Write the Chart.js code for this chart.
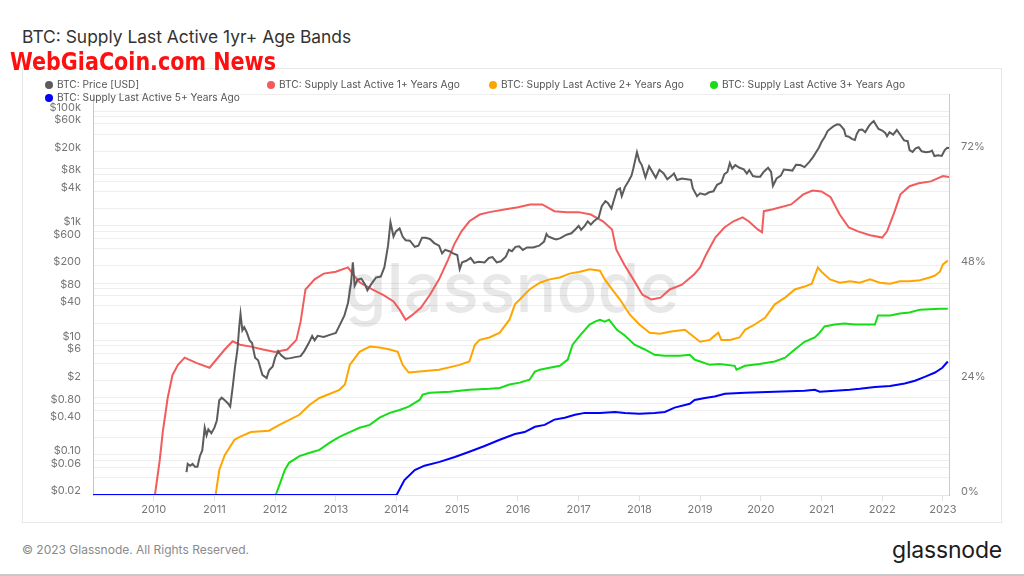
<!DOCTYPE html>
<html>
<head>
<meta charset="utf-8">
<script src="https://cdn.jsdelivr.net/npm/chart.js@4"></script>
<style>
  body { margin: 0; width: 1024px; height: 576px; background: #fff; position: relative; overflow: hidden; font-family: Inter, "Noto Sans", sans-serif; }
  .abs { position: absolute; white-space: nowrap; }
  #title { left: 22px; top: 26px; font-size: 17.4px; line-height: 22px; color: #333; }
  #wm { left: 10px; top: 46px; font-family: "DejaVu Sans Condensed", sans-serif; font-weight: bold; font-size: 23px; line-height: 28px; color: #ff1010; z-index: 3; transform: scale(1, 1.1); transform-origin: left top; }
  #card { left: 22px; top: 68px; width: 980px; height: 455px; box-sizing: border-box; border: 1px solid #e8e8e8; }
  #chartBox { left: 22px; top: 68px; width: 980px; height: 455px; }
  .leg { font-size: 10.2px; line-height: 14px; color: #555; z-index: 2; }
  .leg i { display: inline-block; width: 8px; height: 8px; border-radius: 50%; margin-right: 4px; vertical-align: -0.5px; }
  #foot { left: 22px; top: 542px; font-size: 12px; line-height: 16px; color: #8a8a8a; }
  #logo { right: 22px; top: 536px; font-size: 23px; line-height: 28px; font-weight: 400; color: #1c1c1c; letter-spacing: -0.2px; }
  #rule { left: 0; top: 574px; width: 1024px; height: 2px; background: #c9c9c9; }
</style>
</head>
<body>
<div class="abs" id="title">BTC: Supply Last Active 1yr+ Age Bands</div>
<div class="abs" id="wm">WebGiaCoin.com News</div>
<div class="abs" id="card"></div>
<div class="abs" id="chartBox"><canvas id="chart" width="980" height="455"></canvas></div>
<div class="abs leg" style="left:45px;top:77px"><i style="background:#5c5c5c"></i>BTC: Price [USD]</div>
<div class="abs leg" style="left:267px;top:77px"><i style="background:#f25c5c"></i>BTC: Supply Last Active 1+ Years Ago</div>
<div class="abs leg" style="left:489px;top:77px"><i style="background:#ffa500"></i>BTC: Supply Last Active 2+ Years Ago</div>
<div class="abs leg" style="left:710px;top:77px"><i style="background:#16dd16"></i>BTC: Supply Last Active 3+ Years Ago</div>
<div class="abs leg" style="left:45px;top:90px"><i style="background:#0000ff"></i>BTC: Supply Last Active 5+ Years Ago</div>
<div class="abs" id="foot">© 2023 Glassnode. All Rights Reserved.</div>
<div class="abs" id="logo">glassnode</div>
<div class="abs" id="rule"></div>

<script>
// ticks
const yearTicks = [2010, 2011, 2012, 2013, 2014, 2015, 2016, 2017, 2018, 2019, 2020, 2021, 2022, 2023];
const priceTicks = [0.02, 0.04, 0.06, 0.08, 0.1, 0.2, 0.4, 0.6, 0.8, 1, 2, 4, 6, 8, 10, 20, 40, 60, 80, 100,
  200, 400, 600, 800, 1000, 2000, 4000, 6000, 8000, 10000, 20000, 40000, 60000, 80000, 100000, 200000];
const priceTickLabels = ["$0.02", "", "$0.06", "", "$0.10", "", "$0.40", "", "$0.80", "", "$2", "", "$6", "", "$10", "", "$40", "", "$80", "",
  "$200", "", "$600", "", "$1k", "", "$4k", "", "$8k", "", "$20k", "", "$60k", "", "$100k", ""];
const pctTicks = [0, 24, 48, 72];

// BTC price [USD]
const priceX = [2010.54, 2010.56, 2010.6, 2010.64, 2010.68, 2010.72, 2010.76, 2010.8, 2010.84, 2010.87, 2010.9, 2010.95,
  2011.0, 2011.04, 2011.08, 2011.12, 2011.17, 2011.22, 2011.26, 2011.3, 2011.34, 2011.38, 2011.41, 2011.43, 2011.46, 2011.49,
  2011.53, 2011.58, 2011.62, 2011.67, 2011.72, 2011.79, 2011.86, 2011.9, 2011.96, 2012.0, 2012.05, 2012.1, 2012.17, 2012.25,
  2012.33, 2012.42, 2012.48, 2012.55, 2012.61, 2012.65, 2012.7, 2012.8, 2012.9, 2013.0, 2013.08, 2013.14, 2013.2, 2013.25,
  2013.28, 2013.31, 2013.36, 2013.42, 2013.48, 2013.52, 2013.58, 2013.66, 2013.74, 2013.8, 2013.86, 2013.9, 2013.95, 2013.99,
  2014.05, 2014.1, 2014.15, 2014.22, 2014.3, 2014.36, 2014.42, 2014.48, 2014.55, 2014.62, 2014.7, 2014.75, 2014.8, 2014.87,
  2014.93, 2015.0, 2015.04, 2015.08, 2015.15, 2015.22, 2015.28, 2015.35, 2015.45, 2015.52, 2015.58, 2015.65, 2015.72, 2015.8,
  2015.85, 2015.9, 2015.96, 2016.02, 2016.08, 2016.15, 2016.25, 2016.35, 2016.43, 2016.47, 2016.5, 2016.58, 2016.63, 2016.7,
  2016.8, 2016.88, 2016.96, 2017.0, 2017.04, 2017.1, 2017.15, 2017.2, 2017.25, 2017.33, 2017.38, 2017.44, 2017.48, 2017.54,
  2017.58, 2017.63, 2017.68, 2017.71, 2017.76, 2017.82, 2017.87, 2017.9, 2017.96, 2018.0, 2018.04, 2018.1, 2018.16, 2018.22,
  2018.27, 2018.33, 2018.4, 2018.46, 2018.52, 2018.57, 2018.62, 2018.7, 2018.78, 2018.85, 2018.88, 2018.95, 2019.0, 2019.08,
  2019.15, 2019.22, 2019.28, 2019.35, 2019.4, 2019.45, 2019.49, 2019.53, 2019.58, 2019.65, 2019.72, 2019.77, 2019.81, 2019.87,
  2019.93, 2019.99, 2020.05, 2020.12, 2020.17, 2020.2, 2020.26, 2020.33, 2020.38, 2020.45, 2020.52, 2020.58, 2020.65, 2020.72,
  2020.8, 2020.86, 2020.9, 2020.96, 2021.0, 2021.05, 2021.1, 2021.15, 2021.2, 2021.26, 2021.3, 2021.33, 2021.37, 2021.4,
  2021.45, 2021.5, 2021.55, 2021.58, 2021.62, 2021.67, 2021.72, 2021.78, 2021.82, 2021.86, 2021.9, 2021.94, 2022.0, 2022.05,
  2022.08, 2022.12, 2022.18, 2022.24, 2022.3, 2022.36, 2022.42, 2022.45, 2022.5, 2022.55, 2022.6, 2022.65, 2022.72, 2022.78,
  2022.82, 2022.86, 2022.92, 2022.98, 2023.03, 2023.07, 2023.1];
const priceY = [0.05, 0.07, 0.065, 0.07, 0.062, 0.062, 0.095, 0.12, 0.3, 0.22, 0.28, 0.24,
  0.3, 0.4, 0.9, 1.0, 0.9, 0.8, 0.7, 1.5, 3.5, 7, 18, 29, 15, 17,
  14, 10, 9, 5, 4.5, 2.5, 2.2, 3, 3.5, 5, 6.5, 5.5, 4.8, 4.9,
  5.1, 5.3, 6.5, 8.8, 12, 10, 12, 11.5, 12.5, 13.5, 20, 27, 45, 100,
  230, 90, 115, 120, 95, 75, 95, 125, 130, 190, 450, 1150, 650, 800,
  900, 650, 560, 550, 430, 450, 620, 620, 590, 500, 450, 330, 380, 360,
  330, 310, 175, 230, 245, 275, 225, 235, 230, 275, 285, 230, 240, 290,
  380, 360, 430, 440, 380, 420, 420, 450, 530, 720, 650, 600, 580, 610,
  700, 740, 900, 1000, 850, 1000, 1200, 1050, 1200, 1400, 2200, 2700, 2500, 2000,
  2800, 4200, 4500, 3300, 4700, 6000, 7500, 10000, 19300, 13500, 11500, 7000, 11000, 8500,
  6900, 9500, 8200, 6500, 7300, 8200, 6300, 6700, 6500, 6350, 4500, 3300, 3700, 3500,
  3850, 4000, 5200, 5700, 8000, 8700, 12500, 10000, 11500, 10300, 9700, 8200, 9400, 7400,
  7200, 7200, 8800, 10300, 8700, 5000, 6700, 7500, 9600, 9400, 9200, 11600, 11500, 10600,
  13100, 15800, 18500, 23500, 29000, 35000, 45000, 50000, 55000, 59000, 58000, 54000, 48000, 37000,
  36000, 33000, 31500, 40000, 47000, 48000, 43000, 55000, 62000, 67500, 57000, 49000, 46000, 42000,
  36500, 43000, 39000, 47000, 38500, 31000, 30000, 21000, 19500, 22500, 23500, 20000, 19300, 19600,
  20500, 16500, 17000, 16600, 21000, 23000, 22900];

// supply last active 1+ years ago [%]
const sup1X = [2009.0, 2010.02, 2010.1, 2010.15, 2010.23, 2010.31, 2010.4, 2010.51, 2010.7, 2010.92, 2011.17, 2011.3, 2011.42,
  2011.6, 2011.8, 2012.0, 2012.2, 2012.35, 2012.42, 2012.5, 2012.65, 2012.8, 2013.0, 2013.2, 2013.3, 2013.4, 2013.6, 2013.8,
  2013.95, 2014.05, 2014.15, 2014.25, 2014.4, 2014.55, 2014.7, 2014.85, 2014.95, 2015.07, 2015.2, 2015.37, 2015.53, 2015.8,
  2016.0, 2016.2, 2016.4, 2016.6, 2016.8, 2017.0, 2017.2, 2017.4, 2017.55, 2017.62, 2017.75, 2017.9, 2018.05, 2018.2, 2018.35,
  2018.5, 2018.7, 2018.9, 2019.0, 2019.1, 2019.25, 2019.4, 2019.55, 2019.7, 2019.8, 2019.95, 2020.02, 2020.05, 2020.2, 2020.5,
  2020.7, 2020.85, 2021.0, 2021.15, 2021.3, 2021.45, 2021.6, 2021.8, 2022.0, 2022.08, 2022.2, 2022.3, 2022.45, 2022.6, 2022.8,
  2023.0, 2023.1];
const sup1Y = [0, 0, 7.3, 13.2, 20.2, 25.0, 27.1, 28.6, 27.5, 26.5, 30.3, 32.0, 31.3,
  30.9, 30.3, 29.8, 30.3, 32.3, 36.1, 42.8, 44.9, 46.1, 46.5, 47.4, 45.7, 44.2, 42.8, 41.5,
  40.3, 38.6, 36.5, 37.4, 39.0, 41.7, 44.9, 49.0, 52.2, 54.9, 57.0, 58.4, 58.9, 59.5,
  59.9, 60.5, 60.5, 59.1, 58.9, 58.9, 58.4, 57.0, 55.3, 51.1, 48.0, 44.9, 41.7, 40.7, 41.1,
  42.8, 43.8, 45.9, 47.4, 50.1, 53.6, 55.7, 57.0, 57.8, 57.0, 55.3, 54.7, 59.1, 59.5, 60.5,
  62.6, 63.4, 63.2, 62.0, 58.4, 55.7, 54.9, 54.1, 53.6, 54.9, 58.9, 62.6, 64.3, 64.9, 65.3,
  66.4, 66.2];

// supply last active 2+ years ago [%]
const sup2X = [2009.0, 2011.02, 2011.08, 2011.17, 2011.33, 2011.42, 2011.6, 2011.9, 2012.07, 2012.4, 2012.57, 2012.73, 2013.06,
  2013.15, 2013.23, 2013.39, 2013.56, 2013.72, 2013.89, 2014.02, 2014.1, 2014.2, 2014.7, 2015.04, 2015.2, 2015.29, 2015.37,
  2015.53, 2015.7, 2015.86, 2015.95, 2016.03, 2016.19, 2016.36, 2016.52, 2016.69, 2016.85, 2017.02, 2017.18, 2017.35, 2017.43,
  2017.55, 2017.68, 2017.84, 2018.0, 2018.17, 2018.34, 2018.5, 2018.75, 2018.91, 2019.0, 2019.16, 2019.3, 2019.35, 2019.49,
  2019.65, 2019.74, 2019.9, 2020.07, 2020.23, 2020.4, 2020.56, 2020.72, 2020.84, 2020.94, 2021.0, 2021.14, 2021.3, 2021.47,
  2021.63, 2021.8, 2021.96, 2022.13, 2022.29, 2022.45, 2022.62, 2022.78, 2022.87, 2022.95, 2023.0, 2023.08];
const sup2Y = [0, 0, 5.2, 8.3, 11.5, 12.1, 13.1, 13.4, 14.6, 16.7, 18.8, 20.2, 21.9,
  23.0, 27.1, 29.8, 30.9, 30.7, 30.3, 29.8, 27.1, 25.5, 26.1, 27.1, 27.8, 31.3, 32.3,
  32.8, 33.8, 36.5, 39.7, 40.7, 42.8, 44.2, 44.9, 45.3, 46.1, 46.5, 47.0, 46.7, 44.9,
  42.8, 40.7, 37.6, 35.5, 33.8, 33.6, 34.0, 34.4, 32.8, 31.9, 32.3, 33.8, 32.3, 32.3,
  32.8, 34.4, 35.5, 36.9, 39.7, 41.1, 42.8, 43.4, 44.0, 47.4, 46.5, 44.9, 44.2, 44.5,
  44.2, 44.9, 44.2, 44.0, 44.5, 44.5, 44.7, 45.3, 45.7, 46.5, 48.0, 48.8];

// supply last active 3+ years ago [%]
const sup3X = [2009.0, 2012.01, 2012.1, 2012.16, 2012.23, 2012.4, 2012.57, 2012.73, 2012.9, 2013.06, 2013.23, 2013.39, 2013.56,
  2013.72, 2013.89, 2014.05, 2014.2, 2014.38, 2014.43, 2014.55, 2014.88, 2015.2, 2015.53, 2015.7, 2015.86, 2016.03, 2016.19,
  2016.28, 2016.36, 2016.52, 2016.69, 2016.82, 2016.9, 2017.02, 2017.18, 2017.27, 2017.35, 2017.43, 2017.5, 2017.55, 2017.63,
  2017.76, 2017.92, 2018.09, 2018.25, 2018.42, 2018.67, 2018.83, 2018.91, 2019.0, 2019.16, 2019.32, 2019.57, 2019.6, 2019.74,
  2019.98, 2020.23, 2020.4, 2020.56, 2020.72, 2020.89, 2020.97, 2021.05, 2021.22, 2021.38, 2021.55, 2021.88, 2021.93, 2022.13,
  2022.29, 2022.45, 2022.62, 2022.95, 2023.08];
const sup3Y = [0, 0, 3.1, 5.2, 6.7, 8.1, 8.8, 9.4, 10.9, 12.1, 13.1, 14.0, 14.6,
  16.1, 17.1, 17.7, 18.4, 19.8, 20.9, 21.3, 21.5, 21.9, 22.1, 22.3, 23.0, 23.4, 24.0,
  25.7, 26.1, 26.5, 26.9, 28.2, 31.3, 33.2, 35.5, 36.1, 36.5, 36.1, 36.5, 35.7, 34.4,
  33.2, 31.3, 30.3, 29.2, 29.0, 29.0, 29.2, 28.2, 27.8, 27.1, 27.3, 26.9, 26.1, 26.9,
  27.3, 27.8, 28.6, 30.3, 31.9, 32.8, 33.8, 35.1, 35.5, 35.7, 35.5, 35.5, 37.4, 37.4,
  37.8, 38.0, 38.6, 38.8, 38.8];

// supply last active 5+ years ago [%]
const sup5X = [2009.0, 2014.0, 2014.13, 2014.3, 2014.46, 2014.71, 2014.96, 2015.2, 2015.45, 2015.7, 2015.95, 2016.11, 2016.28,
  2016.44, 2016.6, 2016.77, 2016.94, 2017.1, 2017.35, 2017.6, 2017.76, 2018.0, 2018.25, 2018.42, 2018.58, 2018.83, 2018.91,
  2019.08, 2019.24, 2019.41, 2019.74, 2020.23, 2020.72, 2020.89, 2020.97, 2021.47, 2021.63, 2021.88, 2022.13, 2022.37, 2022.54,
  2022.7, 2022.87, 2022.99, 2023.08];
const sup5Y = [0, 0, 3.1, 5.2, 6.1, 6.9, 7.9, 9.0, 10.2, 11.5, 12.7, 13.1, 14.2,
  14.6, 15.7, 16.1, 16.7, 17.1, 17.1, 17.3, 17.1, 16.9, 17.1, 17.3, 18.2, 19.0, 19.8,
  20.2, 20.5, 21.1, 21.3, 21.5, 21.7, 21.9, 21.5, 21.9, 22.1, 22.5, 22.7, 23.2, 23.8,
  24.6, 25.5, 26.5, 27.8];

document.addEventListener("DOMContentLoaded", () => {
  const toPoints = (xs, ys) => xs.map((x, i) => ({ x, y: ys[i] }));

  const line = (label, xs, ys, color, axis, order) => ({
    label,
    data: toPoints(xs, ys),
    borderColor: color,
    backgroundColor: color,
    borderWidth: 2,
    pointRadius: 0,
    tension: 0,
    yAxisID: axis,
    order,
  });

  // faint logo behind the lines
  const watermark = {
    id: "watermark",
    beforeDatasetsDraw(chart) {
      const { ctx } = chart;
      ctx.save();
      ctx.font = "500 68px Inter";
      ctx.fillStyle = "rgba(0,0,0,0.09)";
      ctx.textAlign = "center";
      ctx.textBaseline = "middle";
      ctx.fillText("glassnode", 490, 224);
      ctx.restore();
    },
  };

  const axisFont = { family: "Inter", size: 11 };

  new Chart(document.getElementById("chart"), {
    type: "line",
    data: {
      datasets: [
        line("BTC: Price [USD]", priceX, priceY, "#5c5c5c", "y", 1),
        line("BTC: Supply Last Active 1+ Years Ago", sup1X, sup1Y, "#f25c5c", "y1", 4),
        line("BTC: Supply Last Active 2+ Years Ago", sup2X, sup2Y, "#ffa500", "y1", 3),
        line("BTC: Supply Last Active 3+ Years Ago", sup3X, sup3Y, "#16dd16", "y1", 2),
        line("BTC: Supply Last Active 5+ Years Ago", sup5X, sup5Y, "#0000ff", "y1", 0),
      ],
    },
    options: {
      responsive: false,
      animation: false,
      layout: { padding: { top: 26, left: 0, right: 0, bottom: 0 } },
      plugins: { legend: { display: false }, tooltip: { enabled: false } },
      scales: {
        x: {
          type: "linear",
          min: 2009.0,
          max: 2023.1,
          afterBuildTicks: (s) => { s.ticks = yearTicks.map((v) => ({ value: v })); },
          afterFit: (s) => { s.height = 28; },
          ticks: { callback: (v) => String(v), color: "#777", font: axisFont, padding: 2, autoSkip: false, maxRotation: 0 },
          grid: { drawOnChartArea: false, tickLength: 6, color: "#e3e3e3" },
          border: { color: "#e6e6e6" },
        },
        y: {
          type: "logarithmic",
          position: "left",
          min: 0.02,
          max: 200000,
          afterBuildTicks: (s) => { s.ticks = priceTicks.map((v) => ({ value: v })); },
          afterFit: (s) => { s.width = 71; },
          ticks: {
            callback: (v, i) => priceTickLabels[i],
            color: "#777",
            font: axisFont,
            padding: 12,
            labelOffset: -4,
            autoSkip: false,
          },
          grid: { color: "#eeeeee", drawTicks: false },
          border: { color: "#c8c8c8" },
        },
        y1: {
          type: "linear",
          position: "right",
          min: 0,
          max: 83.5,
          afterBuildTicks: (s) => { s.ticks = pctTicks.map((v) => ({ value: v })); },
          afterFit: (s) => { s.width = 53; },
          ticks: { callback: (v) => v + "%", color: "#777", font: axisFont, padding: 12, labelOffset: -3, autoSkip: false },
          grid: { drawOnChartArea: false, drawTicks: false },
          border: { color: "rgba(240,100,100,0.45)" },
        },
      },
    },
    plugins: [watermark],
  });
});
</script>
</body>
</html>
